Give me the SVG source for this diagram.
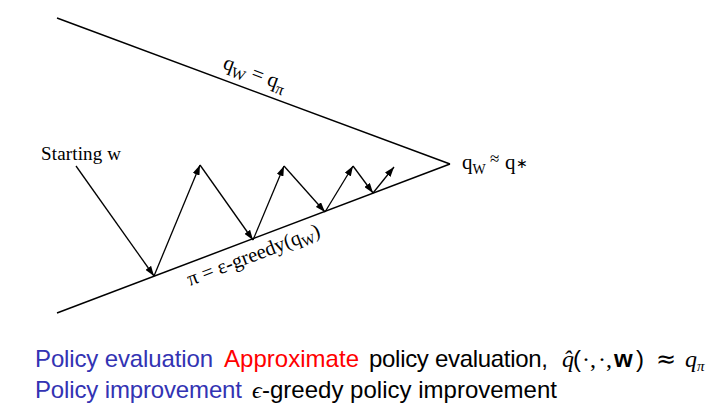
<svg xmlns="http://www.w3.org/2000/svg" width="717" height="417" viewBox="0 0 717 417">
<style>
.edge{stroke:#000;stroke-width:1.3;fill:none}
.bound{stroke:#000;stroke-width:1.5;fill:none}
.serif{font-family:"Liberation Serif","Times New Roman",serif;fill:#000}
.sans{font-family:"Liberation Sans",Arial,sans-serif;font-size:24px}
.blue{fill:#3333b3}
.red{fill:#ff0000}
.blk{fill:#000}
.math{font-family:"Liberation Serif","Times New Roman",serif;font-style:italic}
</style>
<defs>
<marker id="ah" markerUnits="userSpaceOnUse" markerWidth="10" markerHeight="7" refX="10" refY="3.5" orient="auto">
<path d="M0,0 L10,3.5 L0,7 z" fill="#000"/>
</marker>
</defs>
<g id="connectors">
<line class="bound" x1="57" y1="18" x2="450" y2="164"/>
<line class="bound" x1="57" y1="313" x2="450" y2="164"/>
<line class="edge" x1="76" y1="166" x2="154" y2="276" marker-end="url(#ah)"/>
<line class="edge" x1="154" y1="276" x2="200" y2="165" marker-end="url(#ah)"/>
<line class="edge" x1="200" y1="165" x2="253" y2="240" marker-end="url(#ah)"/>
<line class="edge" x1="253" y1="240" x2="284" y2="166" marker-end="url(#ah)"/>
<line class="edge" x1="284" y1="166" x2="325" y2="212" marker-end="url(#ah)"/>
<line class="edge" x1="325" y1="212" x2="353" y2="166" marker-end="url(#ah)"/>
<line class="edge" x1="353" y1="166" x2="373" y2="193" marker-end="url(#ah)"/>
<line class="edge" x1="373" y1="193" x2="394" y2="167" marker-end="url(#ah)"/>
</g>
<g id="start-label">
<text class="serif" x="41" y="160" font-size="19" textLength="80">Starting w</text>
</g>
<g id="upper-label">
<text class="serif" font-size="21" transform="translate(222,68) rotate(20.4)">q<tspan font-size="15" dy="5">W</tspan><tspan dy="-5"> = q</tspan><tspan font-size="16" dy="5">π</tspan></text>
</g>
<g id="lower-label">
<text class="serif" font-size="20.5" transform="translate(190,286) rotate(-20.9)">π = ε-greedy(q<tspan font-size="14" dy="4">W</tspan><tspan dy="-4">)</tspan></text>
</g>
<g id="apex-label">
<text class="serif" font-size="21" x="462" y="169">q<tspan font-size="14" dy="5">W</tspan></text>
<text class="serif" font-size="17" x="490" y="164">≈</text>
<text class="serif" font-size="21" x="505" y="169">q<tspan font-size="14" dy="-1">∗</tspan></text>
</g>
<g id="caption">
<text class="sans blue" x="35" y="367" textLength="178">Policy evaluation</text>
<text class="sans red" x="224" y="367" textLength="135">Approximate</text>
<text class="sans blk" x="369" y="367" textLength="179">policy evaluation,</text>
<text class="blk" y="367" font-size="24"><tspan class="math" x="562">q̂</tspan><tspan font-family="Liberation Sans,sans-serif" x="573">(</tspan><tspan font-family="Liberation Serif,serif" x="582">·,</tspan><tspan font-family="Liberation Serif,serif" x="598">·,</tspan><tspan font-family="Liberation Sans,sans-serif" font-weight="bold" x="614">w</tspan><tspan font-family="Liberation Sans,sans-serif" x="636">)</tspan><tspan font-family="DejaVu Sans,sans-serif" x="656">≈</tspan><tspan class="math" x="685">q</tspan><tspan class="math" font-size="15" dy="4">π</tspan></text>
<text class="sans blue" x="35" y="398" textLength="207">Policy improvement</text>
<text class="math blk" x="252" y="398" font-size="24">ϵ</text>
<text class="sans blk" x="262" y="398" textLength="295">-greedy policy improvement</text>
</g>
</svg>
